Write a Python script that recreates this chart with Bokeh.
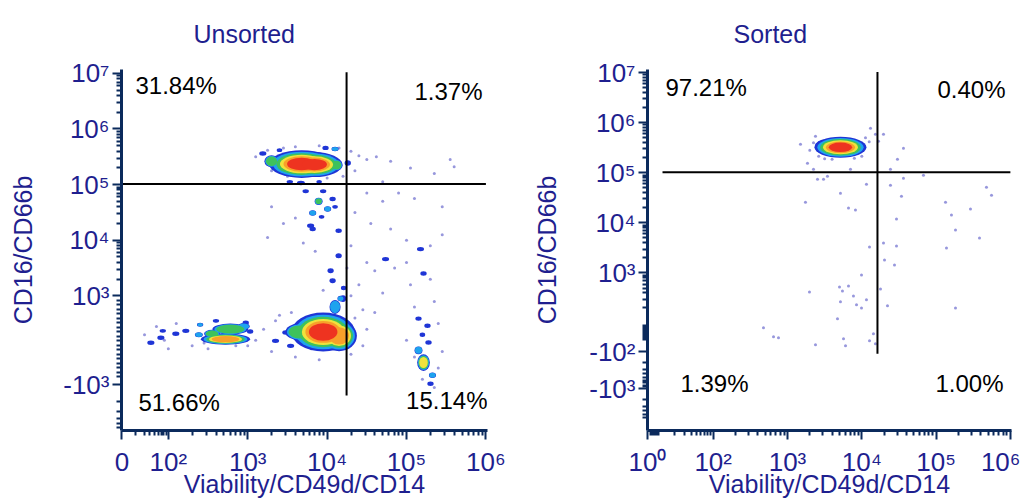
import numpy as np
from bokeh.plotting import figure
from bokeh.models import FixedTicker, ColumnDataSource, Label, Range1d
from bokeh.layouts import row
from bokeh.embed import file_html
from bokeh.resources import INLINE

# ---------------- data (display scale: decades; logicle-like near zero) ----------------
titles = ["Unsorted", "Sorted"]
x_label = "Viability/CD49d/CD14"
y_label = "CD16/CD66b"

# tick positions / labels
left_x_ticks = [1.415, 2, 3, 4, 5, 6]
left_x_labels = ["0", "10²", "10³", "10⁴", "10⁵", "10⁶"]
left_y_ticks = [1.404, 3, 4, 5, 6, 7]
left_y_labels = ["-10³", "10³", "10⁴", "10⁵", "10⁶", "10⁷"]
right_x_ticks = [1.116, 2, 3, 4, 5, 6]
right_x_labels = ["10⁰", "10²", "10³", "10⁴", "10⁵", "10⁶"]
right_y_ticks = [0.692, 1.428, 3, 4, 5, 6, 7]
right_y_labels = ["-10³", "-10²", "10³", "10⁴", "10⁵", "10⁶", "10⁷"]

# quadrant gates (x threshold, y threshold)
left_gate_x = 4.245
left_gate_y = 5.009
right_gate_x = 4.211
right_gate_y = 5.01

# quadrant percentages: UL, UR, LL, LR
left_pct = ["31.84%", "1.37%", "51.66%", "15.14%"]
right_pct = ["97.21%", "0.40%", "1.39%", "1.00%"]

# density blobs: centre x, centre y, width, height, density level (1..6)
left_blob_x = [3.68, 3.84, 3.30, 4.12, 3.19, 4.10, 3.98, 4.26, 3.67, 3.53, 3.40, 3.90,
               3.893, 4.006, 3.818, 4.069, 3.73, 3.95, 3.792, 4.145, 3.818, 4.145, 4.044, 4.069, 4.208, 4.17, 4.10, 3.93,
               3.95, 4.15, 3.65, 4.10, 4.20, 3.48, 3.35, 3.54,
               2.72, 2.78, 2.55, 2.95, 2.384, 2.22, 2.094, 1.906, 1.78, 1.93, 2.975, 3.03, 2.60, 2.40,
               5.214, 5.151, 5.327, 5.277, 5.151, 5.264, 5.214, 5.176, 4.736, 5.302, 5.20]
left_blob_y = [5.37, 5.36, 5.42, 5.35, 5.56, 5.64, 5.66, 5.39, 5.03, 5.05, 5.62, 5.05,
               4.70, 4.56, 4.49, 4.74, 4.88, 4.88, 4.26, 4.17, 4.20, 3.72, 3.45, 3.27, 3.14, 2.95, 4.60, 4.42,
               2.35, 2.28, 2.35, 2.80, 2.95, 2.34, 2.19, 2.10,
               2.22, 2.40, 2.32, 2.45, 2.30, 2.37, 2.318, 2.247, 2.157, 2.37, 2.516, 2.36, 2.55, 2.48,
               1.80, 2.02, 1.57, 2.16, 2.59, 2.46, 3.40, 3.84, 3.66, 1.42, 2.30]
left_blob_w = [0.82, 0.70, 0.18, 0.15, 0.09, 0.09, 0.08, 0.08, 0.10, 0.08, 0.07, 0.07,
               0.10, 0.09, 0.09, 0.08, 0.08, 0.08, 0.09, 0.08, 0.08, 0.08, 0.08, 0.08, 0.07, 0.08, 0.07, 0.07,
               0.80, 0.45, 0.35, 0.14, 0.08, 0.09, 0.09, 0.09,
               0.62, 0.45, 0.20, 0.15, 0.10, 0.09, 0.09, 0.09, 0.09, 0.08, 0.08, 0.08, 0.08, 0.08,
               0.16, 0.10, 0.09, 0.08, 0.08, 0.08, 0.08, 0.09, 0.09, 0.08, 0.07]
left_blob_h = [0.50, 0.45, 0.22, 0.20, 0.08, 0.08, 0.08, 0.10, 0.08, 0.07, 0.07, 0.07,
               0.13, 0.10, 0.10, 0.08, 0.07, 0.07, 0.08, 0.08, 0.08, 0.09, 0.09, 0.09, 0.08, 0.10, 0.07, 0.07,
               0.70, 0.55, 0.30, 0.25, 0.12, 0.08, 0.08, 0.08,
               0.20, 0.20, 0.14, 0.12, 0.09, 0.08, 0.08, 0.08, 0.08, 0.07, 0.08, 0.08, 0.07, 0.07,
               0.30, 0.14, 0.10, 0.08, 0.08, 0.08, 0.08, 0.08, 0.08, 0.08, 0.08]
left_blob_lvl = [6, 6, 3, 3, 1, 2, 1, 1, 1, 1, 1, 1,
                 3, 2, 2, 1, 1, 1, 1, 1, 1, 1, 1, 1, 1, 2, 1, 1,
                 6, 5, 3, 2, 1, 1, 1, 1,
                 5, 3, 3, 2, 2, 1, 1, 1, 1, 1, 1, 1, 1, 2,
                 4, 2, 2, 1, 1, 1, 1, 1, 1, 1, 1]

right_blob_x = [3.713, 3.85, 3.52]
right_blob_y = [5.507, 5.49, 5.52]
right_blob_w = [0.70, 0.32, 0.30]
right_blob_h = [0.42, 0.30, 0.30]
right_blob_lvl = [6, 3, 1]

# sparse events
left_dot_x = [3.10, 3.25, 3.45, 3.60, 3.90, 4.15, 4.30, 4.40, 4.50, 4.62, 4.80, 5.05, 5.35, 5.55, 5.60, 4.35,
              4.20, 3.30, 3.50, 4.00, 4.70, 4.50, 4.70, 4.90, 5.10, 5.45, 4.35, 4.55, 4.80, 5.00, 5.30, 5.45,
              3.30, 3.45, 3.25, 3.60, 3.70, 3.85, 4.30, 4.50, 4.25, 4.60, 4.85, 5.00, 4.40, 3.95, 4.30, 4.70,
              5.05, 5.30, 5.35, 5.10, 5.40, 4.60, 4.50, 4.45, 4.30, 3.90, 3.60, 3.30, 3.20, 3.10, 3.00, 2.50,
              2.30, 2.00, 1.85, 2.10, 2.60, 1.70, 5.20, 5.40, 5.10, 5.45, 5.00, 5.35, 3.40, 3.55, 3.75, 4.35,
              4.45, 3.80, 3.35, 2.85, 2.45, 1.95]
left_dot_y = [5.50, 5.62, 5.66, 5.68, 5.70, 5.66, 5.60, 5.52, 5.45, 5.50, 5.42, 5.30, 5.20, 5.45, 5.32, 5.25,
              5.15, 5.25, 5.15, 5.12, 5.05, 4.85, 4.70, 4.85, 4.75, 4.60, 4.50, 4.30, 4.20, 4.00, 3.90, 4.10,
              4.60, 4.30, 4.05, 4.40, 3.95, 3.80, 3.90, 3.60, 3.50, 3.45, 3.50, 3.60, 3.20, 3.10, 3.00, 3.05,
              3.20, 3.30, 2.90, 2.80, 2.50, 2.70, 2.40, 2.10, 1.95, 1.85, 1.90, 2.00, 2.40, 2.20, 2.10, 2.05,
              2.10, 2.05, 2.45, 2.50, 2.55, 2.30, 1.50, 1.70, 1.90, 2.00, 2.20, 1.35, 2.65, 2.70, 2.60, 2.60,
              2.75, 2.05, 2.55, 2.10, 2.15, 2.20]

right_dot_x = [4.117, 4.184, 4.292, 4.225, 4.561, 4.48, 4.386, 3.377, 3.175, 3.269, 3.404, 3.485, 3.538,
               3.35, 3.848, 4.561, 4.83, 4.063, 4.386, 3.713, 3.242, 3.821, 3.915, 4.534, 5.127, 5.678,
               5.746, 5.463, 5.207, 4.467, 5.261, 5.584, 4.104, 4.292, 4.467, 5.14, 4.306, 4.44, 3.996,
               3.70, 3.821, 3.74, 3.296, 3.888, 4.063, 3.713, 3.929, 3.996, 4.252, 4.346, 5.261, 3.673,
               4.157, 2.677, 2.812, 2.879, 3.754, 4.104, 3.377, 3.781, 4.184, 3.30, 3.35, 4.00, 4.10,
               3.50, 3.90, 3.60, 3.42, 4.05]
right_dot_y = [5.886, 5.766, 5.766, 5.627, 5.488, 5.269, 5.07, 5.726, 5.567, 5.189, 4.871, 4.871, 4.93,
               5.07, 5.07, 4.89, 4.95, 4.771, 4.751, 4.592, 4.413, 4.294, 4.254, 4.532, 4.413, 4.711,
               4.552, 4.274, 4.154, 4.075, 3.856, 3.697, 3.517, 3.597, 3.537, 3.498, 3.259, 3.159, 2.96,
               2.721, 2.741, 2.642, 2.622, 2.542, 2.463, 2.423, 2.363, 2.303, 2.682, 2.343, 2.303, 2.085,
               1.786, 1.905, 1.726, 1.706, 1.687, 1.647, 1.567, 1.547, 1.587, 5.45, 5.60, 5.33, 5.62,
               5.28, 5.29, 5.27, 5.33, 5.70]

# ---------------- styling ----------------
FONT = "Liberation Sans"
NAVY = "#0b2a5c"
TXT = "#1f1f8f"
RING_COLORS = ["#1f35d6", "#1ea3ee", "#3ec25c", "#f0e23c", "#f8a02a", "#ee3320"]
RING_SCALE = [1.0, 0.89, 0.78, 0.67, 0.56, 0.45]


def log_minors(decades):
    m = []
    for d in decades:
        for k in range(2, 10):
            m.append(d + np.log10(k))
    return m


def make_fig(width, xr, yr, border_left, border_right, title, title_offset, ylab_standoff):
    p = figure(width=width, height=500, x_range=Range1d(*xr), y_range=Range1d(*yr),
               output_backend="svg", toolbar_location=None,
               min_border_left=border_left, min_border_right=border_right,
               min_border_top=68, min_border_bottom=70)
    p.grid.visible = False
    p.outline_line_color = None
    p.background_fill_color = "white"
    p.border_fill_color = "white"
    p.title.text = title
    p.title.align = "left"
    p.title.offset = title_offset
    p.title.vertical_align = "top"
    p.title.standoff = 39
    p.title.text_font = FONT
    p.title.text_font_size = "25px"
    p.title.text_font_style = "normal"
    p.title.text_color = TXT
    for ax in (p.xaxis[0], p.yaxis[0]):
        ax.axis_line_color = NAVY
        ax.axis_line_width = 3
        ax.major_tick_line_color = NAVY
        ax.major_tick_line_width = 2
        ax.major_tick_out = 9
        ax.major_tick_in = 0
        ax.minor_tick_line_color = NAVY
        ax.minor_tick_line_width = 2
        ax.minor_tick_out = 5
        ax.minor_tick_in = 0
        ax.major_label_text_font = FONT
        ax.major_label_text_font_size = "26px"
        ax.major_label_text_color = TXT
        ax.axis_label_text_font = FONT
        ax.axis_label_text_font_size = "25px"
        ax.axis_label_text_font_style = "normal"
        ax.axis_label_text_color = TXT
    p.xaxis.axis_label = x_label
    p.yaxis.axis_label = y_label
    p.xaxis.major_label_standoff = 7
    p.xaxis.axis_label_standoff = -10
    p.yaxis.major_label_standoff = 3
    p.yaxis.axis_label_standoff = ylab_standoff
    return p


def draw_panel(p, bx, by, bw, bh, bl, dx, dy, gx, gy, vline_bottom, hline_left, hline_right, pct, offs):
    # sparse events
    p.scatter(dx, dy, size=3, marker="circle", fill_color="#8c8cd8", line_color=None, fill_alpha=0.9)
    bx, by, bw, bh, bl = map(np.asarray, (bx, by, bw, bh, bl))
    for k in range(6):
        m = bl > k
        if not m.any():
            continue
        src = ColumnDataSource(dict(x=bx[m], y=by[m], w=bw[m] * RING_SCALE[k], h=bh[m] * RING_SCALE[k]))
        p.ellipse("x", "y", width="w", height="h", source=src,
                  fill_color=RING_COLORS[k], line_color=None)
    top = p.y_range.end
    p.segment(x0=[gx, hline_left], y0=[vline_bottom, gy], x1=[gx, hline_right], y1=[top - 0.05, gy],
              line_color="black", line_width=2)
    xs, xe = p.x_range.start, p.x_range.end
    ys, ye = p.y_range.start, p.y_range.end
    anchors = [(xs, ye, "left"), (xe, ye, "right"), (xs, ys, "left"), (xe, ys, "right")]
    for (ax_, ay_, al), txt, (ox, oy) in zip(anchors, pct, offs):
        p.add_layout(Label(x=ax_, y=ay_, x_offset=ox, y_offset=oy, text=txt,
                           text_align=al, text_baseline="middle",
                           text_font=FONT, text_font_size="24px", text_color="black"))


# ---------------- left panel ----------------
pl = make_fig(524, (1.41, 6.02), (0.578, 7.07), 121, 37, titles[0], 72, 23)
pl.xaxis.ticker = FixedTicker(ticks=left_x_ticks,
                              minor_ticks=[2 - (1 - np.log10(k)) * 0.585 for k in range(2, 10)] + log_minors([2, 3, 4, 5]))
pl.xaxis.major_label_overrides = {t: l for t, l in zip(left_x_ticks, left_x_labels)}
lin0 = 2.19
pl.yaxis.ticker = FixedTicker(ticks=left_y_ticks,
                              minor_ticks=[lin0 + i * 0.081 for i in range(-8, 10)]
                              + [1.404 - np.log10(k) for k in range(2, 7)] + log_minors([3, 4, 5, 6]))
pl.yaxis.major_label_overrides = {t: l for t, l in zip(left_y_ticks, left_y_labels)}
draw_panel(pl, left_blob_x, left_blob_y, left_blob_w, left_blob_h, left_blob_lvl,
           left_dot_x, left_dot_y, left_gate_x, left_gate_y, 1.206, 1.415, 6.0, left_pct,
           [(14, -16), (-5, -22), (17, 28), (0, 30)])

# ---------------- right panel ----------------
pr = make_fig(496, (1.116, 6.015), (-0.144, 7.06), 123, 9, titles[1], 86, 25)
pr.xaxis.ticker = FixedTicker(ticks=right_x_ticks,
                              minor_ticks=[1.26 - (1 - np.log10(k)) * 0.144 for k in range(2, 10)]
                              + [2 - (1 - np.log10(k)) * 0.74 for k in range(1, 10)] + log_minors([2, 3, 4, 5]))
pr.xaxis.major_label_overrides = {t: l for t, l in zip(right_x_ticks, right_x_labels)}
rz = 1.806
pr.yaxis.ticker = FixedTicker(ticks=right_y_ticks,
                              minor_ticks=[3 - np.log10(10 / k) * 1.0 for k in range(2, 10)]
                              + [rz + i * 0.035 for i in range(-4, 5)]
                              + [1.428 - np.log10(k) * 0.736 for k in range(2, 10)]
                              + [0.692 - np.log10(k) * 0.736 for k in range(2, 7)]
                              + log_minors([3, 4, 5, 6]))
pr.yaxis.major_label_overrides = {t: l for t, l in zip(right_y_ticks, right_y_labels)}
draw_panel(pr, right_blob_x, right_blob_y, right_blob_w, right_blob_h, right_blob_lvl,
           right_dot_x, right_dot_y, right_gate_x, right_gate_y, 1.388, 1.318, 6.0, right_pct,
           [(18, -18), (-6, -20), (33, 47), (-8, 47)])

layout = row(pl, pr)
open("out.html", "w").write(file_html(layout, INLINE))
